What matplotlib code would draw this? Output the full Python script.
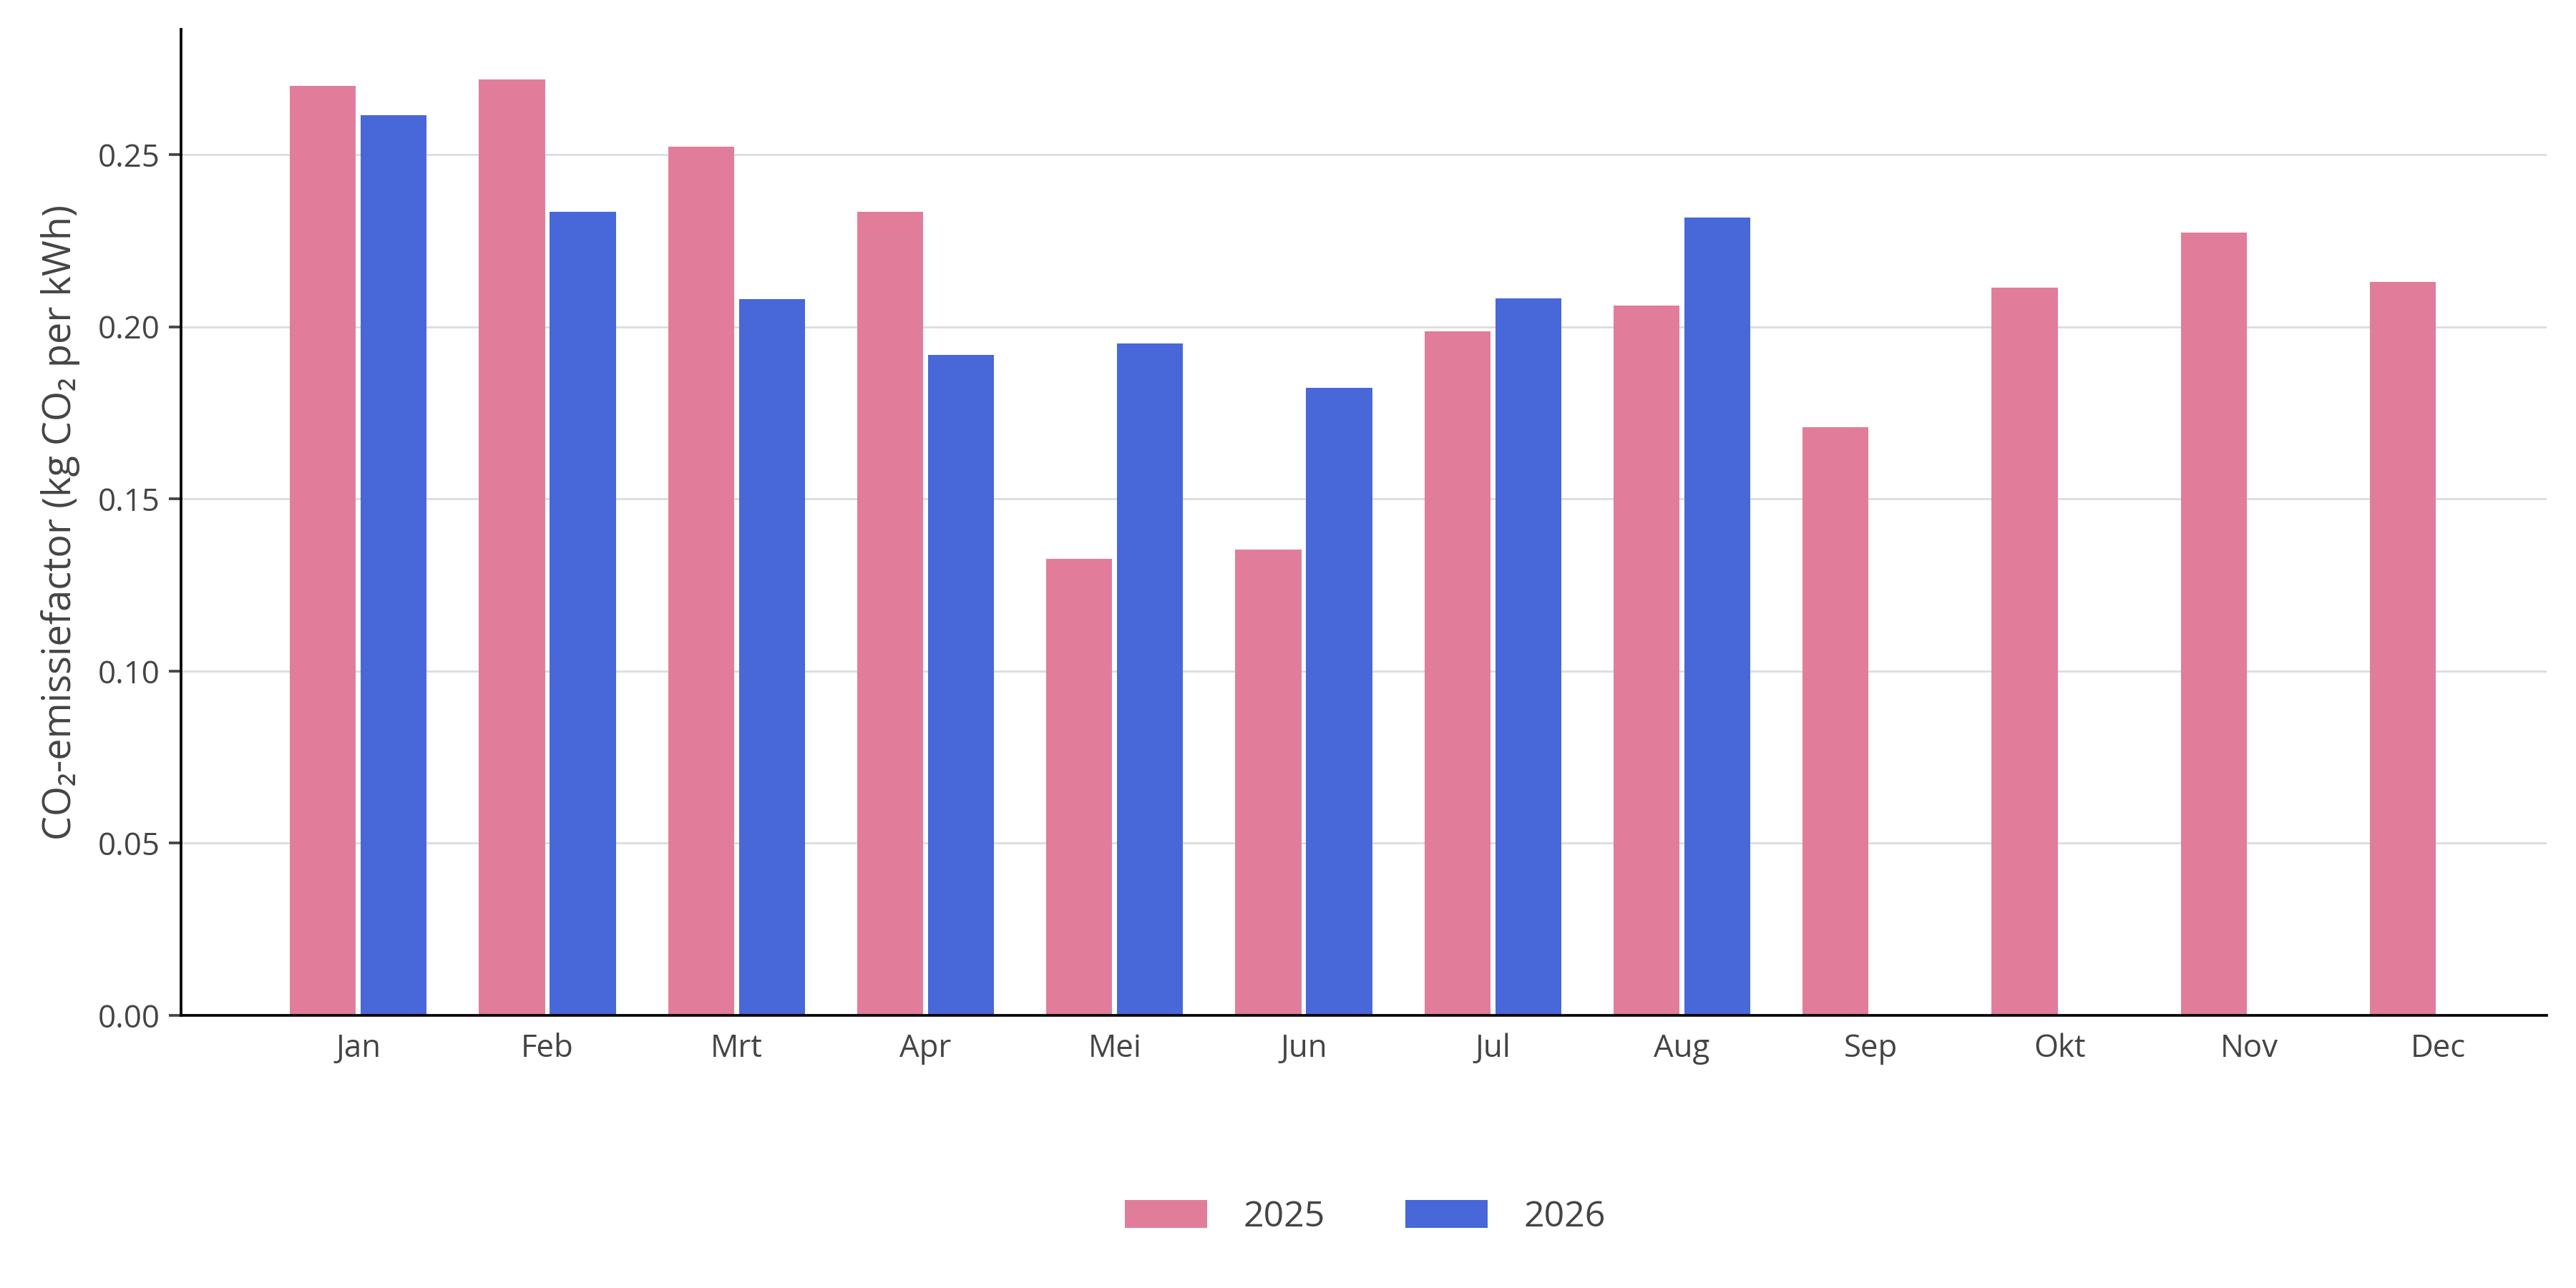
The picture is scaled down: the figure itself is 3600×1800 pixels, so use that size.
import matplotlib
matplotlib.use("Agg")
import matplotlib.pyplot as plt
import numpy as np
from matplotlib.patches import Patch

months = ["Jan", "Feb", "Mrt", "Apr", "Mei", "Jun", "Jul", "Aug", "Sep", "Okt", "Nov", "Dec"]
values_2025 = [0.2700, 0.2719, 0.2524, 0.2333, 0.1326, 0.1352, 0.1987, 0.2061, 0.1708, 0.2114, 0.2273, 0.2130]
values_2026 = [0.2615, 0.2333, 0.2080, 0.1918, 0.1951, 0.1823, 0.2082, 0.2317]
yticks = [0.00, 0.05, 0.10, 0.15, 0.20, 0.25]

plt.rcParams['font.family'] = ['Open Sans', 'DejaVu Sans']

fig = plt.figure(figsize=(12, 6), dpi=300)
ax = fig.add_axes([0.0703, 0.2117, 0.9183, 0.7653])

c25 = "#E17D9B"
c26 = "#4867D8"
w = 0.349
g = 0.013
x = np.arange(len(months))
ax.bar(x[:len(values_2025)] - w / 2 - g, values_2025, width=w, color=c25,
       linewidth=0, zorder=3)
ax.bar(x[:len(values_2026)] + w / 2 + g, values_2026, width=w, color=c26,
       linewidth=0, zorder=3)

ax.set_xlim(-0.937, 11.573)
ax.set_ylim(0, 0.2863)
ax.set_xticks(x)
ax.set_xticklabels(months)
ax.set_yticks(yticks)
ax.set_yticklabels([f"{v:.2f}" for v in yticks])
ax.yaxis.grid(True, color="#dedede", linewidth=0.7, zorder=0)
ax.set_axisbelow(True)

for s in ["top", "right"]:
    ax.spines[s].set_visible(False)
ax.spines["left"].set_color("black")
ax.spines["bottom"].set_color("black")
ax.spines["left"].set_linewidth(0.9)
ax.spines["bottom"].set_linewidth(0.9)
ax.spines["bottom"].set_zorder(4)
ax.tick_params(axis="y", length=4, width=0.9, color="#444444", labelcolor="#444444", labelsize=10.5, pad=3)
ax.tick_params(axis="x", length=0, labelcolor="#444444", labelsize=10.5, pad=6)

ax.set_ylabel("CO₂-emissiefactor (kg CO₂ per kWh)", fontsize=13, color="#444444", labelpad=6)

handles = [Patch(facecolor=c25, label="2025"), Patch(facecolor=c26, label="2026")]
fig.legend(handles=handles, loc="center", bbox_to_anchor=(0.53, 0.055), ncol=2, frameon=False,
           fontsize=12, labelcolor="#444444", handlelength=2.3, handleheight=0.8,
           handletextpad=1.0, columnspacing=2.25)

fig.savefig("out.png", dpi=300, facecolor="white")
